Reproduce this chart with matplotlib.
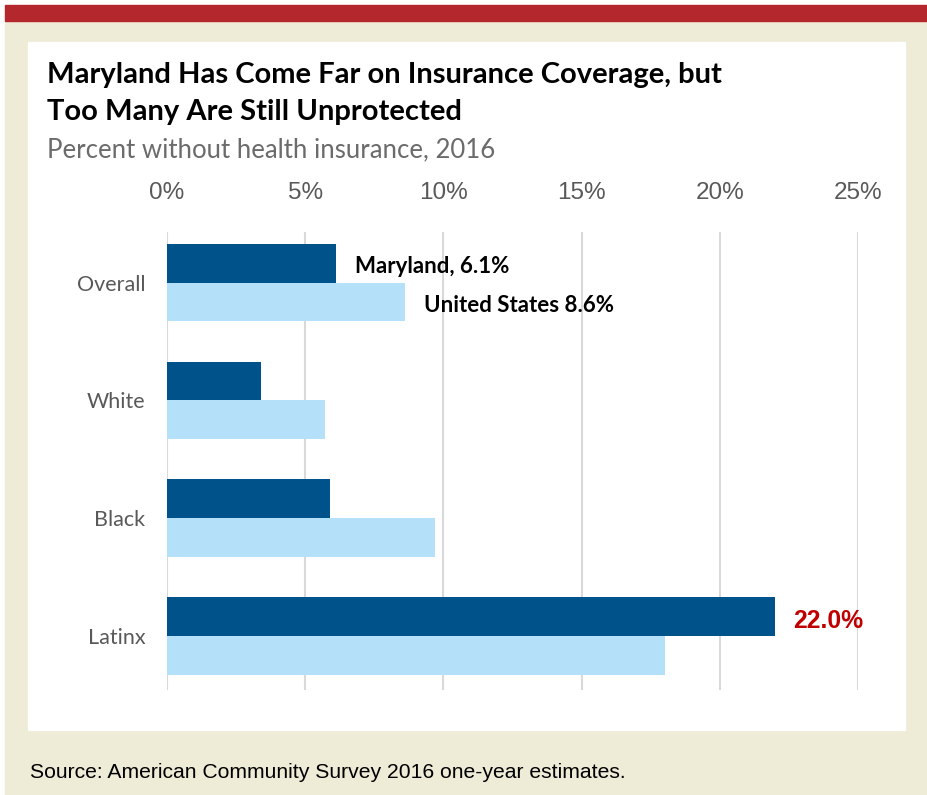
import matplotlib.pyplot as plt
from matplotlib.patches import Rectangle

groups = ["Overall", "White", "Black", "Latinx"]
maryland = [6.1, 3.4, 5.9, 22.0]
united_states = [8.6, 5.7, 9.7, 18.0]
ticks = [0, 5, 10, 15, 20, 25]

W, H = 927, 795
fig = plt.figure(figsize=(W / 100, H / 100), dpi=100)
fig.patch.set_facecolor("white")


def px_rect(x0, y0, x1, y1, color):
    # rectangle given in pixel coords from the top-left corner
    fig.patches.append(Rectangle((x0 / W, 1 - y1 / H), (x1 - x0) / W, (y1 - y0) / H,
                                 transform=fig.transFigure, color=color, zorder=-5))


px_rect(5, 20, W, H, "#eeebd6")
px_rect(5, 5, W, 21, "#b3272d")
px_rect(28, 42, 905, 730, "white")

fig.text(47 / W, 1 - 75 / H, "Maryland Has Come Far on Insurance Coverage, but",
         fontsize=21, fontweight="bold", family="Lato", va="center", color="black")
fig.text(47 / W, 1 - 112 / H, "Too Many Are Still Unprotected",
         fontsize=21, fontweight="bold", family="Lato", va="center", color="black")
fig.text(47 / W, 1 - 150 / H, "Percent without health insurance, 2016",
         fontsize=18.5, family="Lato", va="center", color="#6b6b6b")
fig.text(30 / W, 1 - 772 / H, "Source: American Community Survey 2016 one-year estimates.",
         fontsize=15.2, family="Liberation Sans", va="center", color="black")

ax = fig.add_axes([167 / W, 1 - 690 / H, 691 / W, (690 - 232) / H])
ax.set_facecolor("none")

pos = list(range(len(groups)))
h = 0.33
ax.barh([p - h / 2 for p in pos], maryland, height=h, color="#00538a", zorder=2)
ax.barh([p + h / 2 for p in pos], united_states, height=h, color="#b5e0fa", zorder=2)

ax.set_xlim(0, 25)
ax.set_ylim(3.46, -0.43)
ax.set_xticks(ticks)
ax.set_xticklabels([f"{t}%" for t in ticks], family="Liberation Sans", fontsize=17.5, color="#595959")
ax.xaxis.tick_top()
ax.tick_params(axis="x", length=0, pad=20.5)
ax.set_yticks(pos)
ax.set_yticklabels(groups, family="Lato", fontsize=15.5, color="#595959")
ax.tick_params(axis="y", length=0, pad=15.5)
ax.grid(axis="x", color="#d9d9d9", linewidth=1.5, zorder=1)
for s in ax.spines.values():
    s.set_visible(False)

# value labels sit a touch below the bar centres
nudge = 0.03
ax.text(maryland[0] + 0.7, 0 - h / 2 + nudge, f"Maryland, {maryland[0]:.1f}%", fontsize=16,
        fontweight="bold", family="Lato", va="center", color="black")
ax.text(united_states[0] + 0.7, 0 + h / 2 + nudge, f"United States {united_states[0]:.1f}%", fontsize=16,
        fontweight="bold", family="Lato", va="center", color="black")
ax.text(maryland[3] + 0.65, 3 - h / 2 + 0.04, f"{maryland[3]:.1f}%", fontsize=17.8,
        fontweight="bold", family="Liberation Sans", va="center", color="#c00000")

fig.savefig("out.png", dpi=100)
